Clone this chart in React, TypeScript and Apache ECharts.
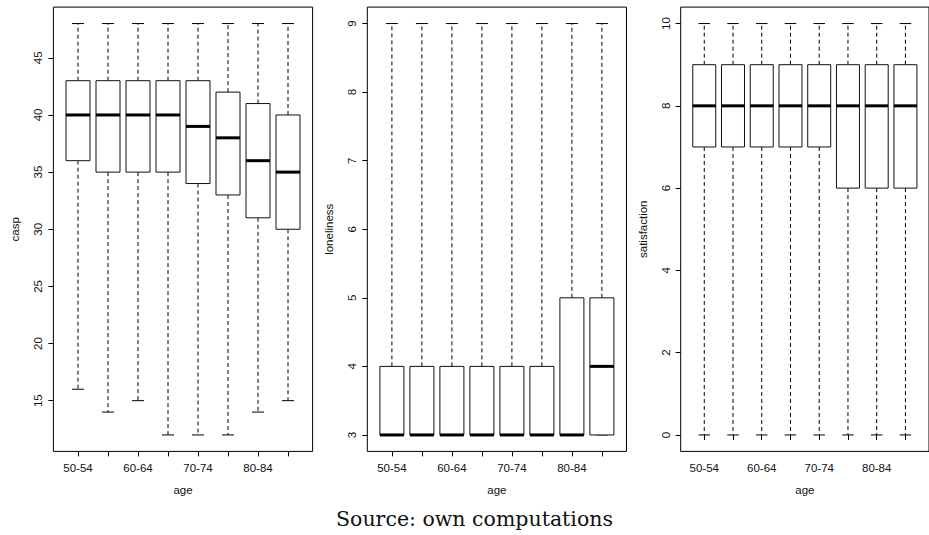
import React, { useEffect, useRef } from "react";
import * as echarts from "echarts";

const categories = ["50-54", "55-59", "60-64", "65-69", "70-74", "75-79", "80-84", "85-89"];
const shownCategoryTicks = [1, 3, 5, 7];

// casp
const caspMin = [16, 14, 15, 12, 12, 12, 14, 15];
const caspQ1 = [36, 35, 35, 35, 34, 33, 31, 30];
const caspMedian = [40, 40, 40, 40, 39, 38, 36, 35];
const caspQ3 = [43, 43, 43, 43, 43, 42, 41, 40];
const caspMax = [48, 48, 48, 48, 48, 48, 48, 48];
const caspTicks = [15, 20, 25, 30, 35, 40, 45];

// loneliness
const lonMin = [3, 3, 3, 3, 3, 3, 3, 3];
const lonQ1 = [3, 3, 3, 3, 3, 3, 3, 3];
const lonMedian = [3, 3, 3, 3, 3, 3, 3, 4];
const lonQ3 = [4, 4, 4, 4, 4, 4, 5, 5];
const lonMax = [9, 9, 9, 9, 9, 9, 9, 9];
const lonTicks = [3, 4, 5, 6, 7, 8, 9];

// satisfaction
const satMin = [0, 0, 0, 0, 0, 0, 0, 0];
const satQ1 = [7, 7, 7, 7, 7, 6, 6, 6];
const satMedian = [8, 8, 8, 8, 8, 8, 8, 8];
const satQ3 = [9, 9, 9, 9, 9, 9, 9, 9];
const satMax = [10, 10, 10, 10, 10, 10, 10, 10];
const satTicks = [0, 2, 4, 6, 8, 10];

const panels = [
  { name: "casp", min: caspMin, q1: caspQ1, med: caspMedian, q3: caspQ3, max: caspMax, ticks: caspTicks },
  { name: "loneliness", min: lonMin, q1: lonQ1, med: lonMedian, q3: lonQ3, max: lonMax, ticks: lonTicks },
  { name: "satisfaction", min: satMin, q1: satQ1, med: satMedian, q3: satQ3, max: satMax, ticks: satTicks },
];

const FONT = "'Liberation Sans', Arial, Helvetica, sans-serif";

export default function App() {
  const ref = useRef<HTMLDivElement>(null);
  useEffect(() => {
    if (!ref.current) return;
    const chart = echarts.init(ref.current, null, { renderer: "svg" });
    const lefts = [53.4, 367.3, 680.7];
    const grids: any[] = [];
    const xAxes: any[] = [];
    const yAxes: any[] = [];
    const series: any[] = [];

    panels.forEach((p, gi) => {
      const all = [...p.min, ...p.max];
      const lo = Math.min(...all);
      const hi = Math.max(...all);
      const pad = (hi - lo) * 0.04;
      grids.push({
        left: lefts[gi],
        top: 7.1,
        width: 259.2,
        height: 444.3,
        show: true,
        borderColor: "#000",
        borderWidth: 1,
        backgroundColor: "transparent",
      });
      xAxes.push({
        type: "value",
        gridIndex: gi,
        min: 0.18,
        max: 8.82,
        name: "age",
        nameLocation: "middle",
        nameGap: 33,
        nameTextStyle: { fontFamily: FONT, fontSize: 11.5, color: "#111" },
        axisLine: { show: false },
        axisTick: { show: true, inside: false, length: 5, customValues: categories.map((_, i) => i + 1), lineStyle: { color: "#000" } },
        axisLabel: {
          show: true,
          customValues: shownCategoryTicks,
          margin: 11,
          fontFamily: FONT,
          fontSize: 11.5,
          color: "#111",
          formatter: (v: number) => categories[Math.round(v) - 1] ?? "",
        },
        splitLine: { show: false },
      });
      yAxes.push({
        type: "value",
        gridIndex: gi,
        min: lo - pad,
        max: hi + pad,
        name: p.name,
        nameLocation: "middle",
        nameGap: 32,
        nameRotate: 90,
        nameTextStyle: { fontFamily: FONT, fontSize: 11.5, color: "#111" },
        axisLine: { show: false },
        axisTick: { show: true, inside: false, length: 5, customValues: p.ticks, lineStyle: { color: "#000" } },
        axisLabel: {
          show: true,
          customValues: p.ticks,
          rotate: 90,
          margin: 9,
          fontFamily: FONT,
          fontSize: 11.5,
          color: "#111",
        },
        splitLine: { show: false },
      });
      const data = categories.map((_, i) => [i + 1, p.min[i], p.q1[i], p.med[i], p.q3[i], p.max[i]]);
      series.push({
        type: "custom",
        xAxisIndex: gi,
        yAxisIndex: gi,
        data,
        clip: false,
        renderItem: (params: any, api: any) => {
          const x = api.value(0);
          const cLo = api.coord([x, api.value(1)]);
          const cQ1 = api.coord([x, api.value(2)]);
          const cMed = api.coord([x, api.value(3)]);
          const cQ3 = api.coord([x, api.value(4)]);
          const cHi = api.coord([x, api.value(5)]);
          const hw = api.size([0.8, 0])[0] / 2;
          const sw = hw / 2;
          const cx = cLo[0];
          const whisk = { stroke: "#000", lineWidth: 1, lineDash: [4, 3] };
          const solid = { stroke: "#000", lineWidth: 1 };
          return {
            type: "group",
            children: [
              { type: "line", shape: { x1: cx, y1: cQ3[1], x2: cx, y2: cHi[1] }, style: whisk },
              { type: "line", shape: { x1: cx, y1: cQ1[1], x2: cx, y2: cLo[1] }, style: whisk },
              { type: "line", shape: { x1: cx - sw, y1: cHi[1], x2: cx + sw, y2: cHi[1] }, style: solid },
              { type: "line", shape: { x1: cx - sw, y1: cLo[1], x2: cx + sw, y2: cLo[1] }, style: solid },
              {
                type: "rect",
                shape: { x: cx - hw, y: cQ3[1], width: hw * 2, height: cQ1[1] - cQ3[1] },
                style: { fill: "#fff", stroke: "#111", lineWidth: 1 },
              },
              { type: "line", shape: { x1: cx - hw, y1: cMed[1], x2: cx + hw, y2: cMed[1] }, style: { stroke: "#000", lineWidth: 3 } },
            ],
          };
        },
      });
    });

    chart.setOption({
      animation: false,
      backgroundColor: "#fff",
      grid: grids,
      xAxis: xAxes,
      yAxis: yAxes,
      series,
      graphic: [
        {
          type: "text",
          x: 474.5,
          y: 519,
          style: {
            text: "Source: own computations",
            fontFamily: "'DejaVu Serif', 'Liberation Serif', serif",
            fontSize: 20.5,
            fill: "#111",
            align: "center",
            verticalAlign: "middle",
          },
        },
      ],
    });
    return () => chart.dispose();
  }, []);
  return <div ref={ref} style={{ position: "fixed", left: 0, top: 0, width: 929, height: 535 }} />;
}
